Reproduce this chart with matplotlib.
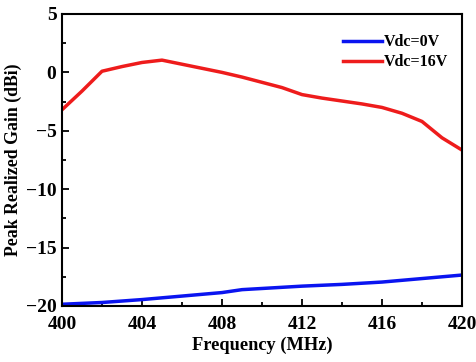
import matplotlib
matplotlib.use("Agg")
import matplotlib.pyplot as plt
from matplotlib.ticker import MultipleLocator

plt.rcParams['font.family'] = ['Liberation Serif', 'DejaVu Serif']
plt.rcParams['font.weight'] = 'bold'

# gain vs frequency, two bias voltages
freq_red = [400, 401, 402, 403, 404, 405, 406, 407, 408, 409, 410,
            411, 412, 413, 414, 415, 416, 417, 418, 419, 420]
gain_16v = [-3.2, -1.6, 0.1, 0.5, 0.85, 1.05, 0.7, 0.35, 0.0, -0.4, -0.85,
            -1.3, -1.9, -2.2, -2.45, -2.7, -3.0, -3.5, -4.2, -5.6, -6.65]

freq_blue = [400, 402, 404, 406, 408, 409, 410, 412, 414, 416, 418, 420]
gain_0v = [-19.85, -19.7, -19.45, -19.15, -18.85, -18.6, -18.5, -18.3,
           -18.15, -17.95, -17.65, -17.35]

fig = plt.figure(figsize=(4.77, 3.62), dpi=100)
ax = fig.add_axes([62/477, 1 - 306/362, 400/477, 292/362])

ax.plot(freq_blue, gain_0v, color='#0a14f0', lw=2.5, label='Vdc=0V')
ax.plot(freq_red, gain_16v, color='#ee1c1c', lw=2.5, label='Vdc=16V')

ax.set_xlim(400, 420)
ax.set_ylim(-20, 5)
ax.xaxis.set_major_locator(MultipleLocator(4))
ax.xaxis.set_minor_locator(MultipleLocator(2))
ax.yaxis.set_major_locator(MultipleLocator(5))
ax.yaxis.set_minor_locator(MultipleLocator(2.5))
ax.tick_params(which='both', direction='in', width=1.3, labelsize=14,
               top=False, right=False)
ax.tick_params(which='major', length=5)
ax.tick_params(which='minor', length=3)
ax.tick_params(axis='x', which='major', pad=7)
ax.tick_params(axis='y', which='major', pad=4)
for s in ax.spines.values():
    s.set_linewidth(1.5)

ax.set_xlabel('Frequency (MHz)', fontsize=13.2, fontweight='bold', labelpad=3)
ax.set_ylabel('Peak Realized Gain (dBi)', fontsize=12.8, fontweight='bold', labelpad=3)

ax.legend(loc='upper right', frameon=False, fontsize=11.5, handlelength=2.4,
          handletextpad=0.1, labelspacing=0.25, bbox_to_anchor=(1.0, 0.98))

fig.savefig('out.png', dpi=100)
